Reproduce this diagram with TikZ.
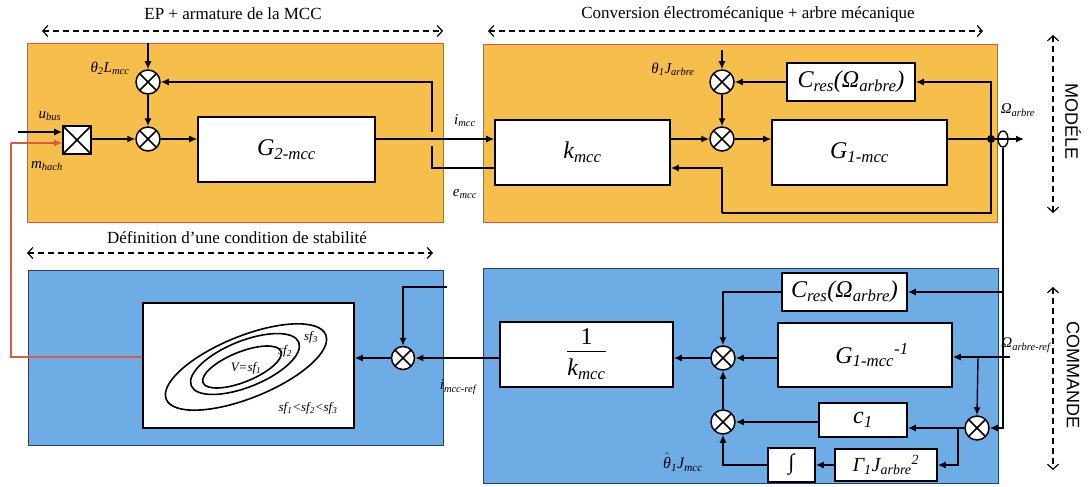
\documentclass[tikz,border=0pt]{standalone}
\usepackage{fontspec}
\setmainfont{Liberation Serif}
\newfontfamily\sansf{Liberation Sans}
\usetikzlibrary{arrows.meta,shapes.misc,shapes.geometric,calc}
\definecolor{orfill}{RGB}{246,190,74}
\definecolor{orline}{RGB}{226,84,52}
\definecolor{blfill}{RGB}{110,172,230}
\definecolor{blline}{RGB}{40,62,112}
\definecolor{redline}{RGB}{214,92,70}
\newcommand{\sbx}[1]{\textsubscript{#1}}
\newcommand{\spx}[1]{\textsuperscript{#1}}
\tikzset{
  panelO/.style={draw=orline, line width=1pt, fill=orfill, anchor=north west, inner sep=0pt},
  panelB/.style={draw=blline, line width=1pt, fill=blfill, anchor=north west, inner sep=0pt},
  blk/.style={draw=black, line width=1.6pt, fill=white, inner sep=0pt, font=\fontsize{24}{28}\selectfont\itshape},
  sumc/.style={circle, draw=black, line width=1.5pt, fill=white, minimum size=24pt, inner sep=0pt,
    path picture={\draw[line width=1.5pt] (path picture bounding box.north west) -- (path picture bounding box.south east)
      (path picture bounding box.north east) -- (path picture bounding box.south west);}},
  multbox/.style={rectangle, draw=black, line width=1.6pt, fill=white, minimum size=28pt, inner sep=0pt,
    path picture={\draw[line width=1.5pt] (path picture bounding box.north west) -- (path picture bounding box.south east)
      (path picture bounding box.north east) -- (path picture bounding box.south west);}},
  ln/.style={line width=1.4pt},
  arr/.style={line width=1.4pt, -{Latex[length=8pt,width=7pt]}},
  redarr/.style={line width=1.4pt, draw=redline, -{Latex[length=8pt,width=7pt]}},
  dasharr/.style={line width=1.2pt, dash pattern=on 6pt off 4pt,
    {Straight Barb[length=5pt,width=11pt]}-{Straight Barb[length=5pt,width=11pt]}},
  lab/.style={font=\fontsize{15}{17}\selectfont\itshape, inner sep=0pt},
  head/.style={font=\fontsize{17}{20}\selectfont, inner sep=0pt},
  side/.style={font=\sansf\fontsize{18}{20}\selectfont, rotate=-90, inner sep=0pt},
  elltxt/.style={font=\fontsize{13}{15}\selectfont\itshape, inner sep=0pt},
}
\begin{document}
\begin{tikzpicture}[x=1pt,y=-1pt]
\useasboundingbox (0,0) rectangle (1090,487);

% ---------- panels ----------
\node[panelO, minimum width=416pt, minimum height=179pt] (pTL) at (27,43) {};
\node[panelO, minimum width=514pt, minimum height=178pt] (pTR) at (483,44) {};
\node[panelB, minimum width=415pt, minimum height=175pt] (pBL) at (28,270) {};
\node[panelB, minimum width=515pt, minimum height=215pt] (pBR) at (483,268) {};

% ---------- headings ----------
\node[head] (h1) at (233,14) {EP + armature de la MCC};
\coordinate (h1a) at (42,31); \coordinate (h1b) at (443,31);
\draw[dasharr] (h1a) -- (h1b);
\node[head] (h2) at (748,14) {Conversion électromécanique + arbre mécanique};
\coordinate (h2a) at (488,31); \coordinate (h2b) at (983,31);
\draw[dasharr] (h2a) -- (h2b);
\node[head] (h3) at (237,238) {Définition d’une condition de stabilité};
\coordinate (h3a) at (27,253); \coordinate (h3b) at (433,253);
\draw[dasharr] (h3a) -- (h3b);
\coordinate (m1) at (1053,35); \coordinate (m2) at (1053,213);
\draw[dasharr] (m1) -- (m2);
\node[side] (modele) at (1073,122) {MODÉLE};
\coordinate (c1a) at (1053,287); \coordinate (c1b) at (1053,470);
\draw[dasharr] (c1a) -- (c1b);
\node[side] (commande) at (1073,375) {COMMANDE};

% ---------- top-left: EP + armature ----------
\node[multbox] (mult) at (77,140) {};
\node[sumc] (s2a) at (148,82) {};
\node[sumc] (s2b) at (148,139) {};
\node[blk, minimum width=177pt, minimum height=65pt] (G2) at (286.5,149.5) {G\sbx{2-mcc}};
\node[lab] (ubus) at (50,116) {u\sbx{bus}};
\node[lab] (mhach) at (47,166) {m\sbx{hach}};
\node[lab] (th2) at (110,68) {θ\sbx{2}L\sbx{mcc}};
\coordinate (inU) at (18,132);
\coordinate (top2) at (148,43);
\draw[arr] (inU) -- (mult.west |- inU);
\draw[arr] (mult.east |- s2b) -- (s2b.west);
\draw[arr] (s2b.east) -- (G2.west |- s2b);
\draw[arr] (top2) -- (s2a.north);
\draw[arr] (s2a.south) -- (s2b.north);

% ---------- top-right: conversion ----------
\node[blk, minimum width=175pt, minimum height=65pt] (kmcc) at (582.5,152.5) {k\sbx{mcc}};
\node[sumc] (s1a) at (722,82) {};
\node[sumc] (s1b) at (722,139) {};
\node[blk, minimum width=175pt, minimum height=65pt] (G1) at (859.5,152.5) {G\sbx{1-mcc}};
\node[blk, minimum width=128pt, minimum height=38pt] (Cres) at (851,82) {C\sbx{res}(Ω\sbx{arbre})};
\node[lab] (th1) at (673,69) {θ\sbx{1}J\sbx{arbre}};
\node[circle, fill=black, minimum size=8pt, inner sep=0pt] (dot) at (991,139) {};
\node[ellipse, draw=black, line width=1.4pt, minimum width=10pt, minimum height=16pt, inner sep=0pt] (sens) at (1003,139) {};
\coordinate (outO) at (1024,139);
\node[lab] (Omarb) at (1018,110) {Ω\sbx{arbre}};
\node[lab] (imcc) at (465,121) {i\sbx{mcc}};
\node[lab] (emcc) at (465,194) {e\sbx{mcc}};
\coordinate (top1) at (722,50);
\coordinate (eRow) at (460,168);
\coordinate (jmpA) at (432,146);
\coordinate (jmpB) at (432,132);
\coordinate (fbc) at (722,213);

\draw[arr] (G2.east |- s2b) -- (kmcc.west |- s2b);
\draw[ln] (kmcc.west |- eRow) -| (jmpA);
\draw[arr] (jmpB) |- (s2a.east);
\draw[arr] (kmcc.east |- s1b) -- (s1b.west);
\draw[arr] (top1) -- (s1a.north);
\draw[arr] (s1a.south) -- (s1b.north);
\draw[arr] (s1b.east) -- (G1.west |- s1b);
\draw[arr] (Cres.west) -- (s1a.east);
\draw[arr] (G1.east |- s1b) -- (dot) -- (outO);
\draw[arr] (dot) |- (Cres.east);
\draw[ln] (dot) |- (fbc);
\draw[arr] (fbc) |- (kmcc.east |- eRow);

% ---------- bottom-left: stability ----------
\node[blk, minimum width=211pt, minimum height=125pt] (ellb) at (248.5,365.5) {};
\draw[line width=1.6pt, rotate around={22:(246,367)}] (246,367) ellipse [x radius=86, y radius=31];
\draw[line width=1.6pt, rotate around={22:(245,364)}] (245,364) ellipse [x radius=58, y radius=23];
\draw[line width=1.6pt, rotate around={22:(242,367)}] (242,367) ellipse [x radius=42, y radius=15];
\node[elltxt] (sf3) at (311,337) {sf\sbx{3}};
\node[elltxt] (sf2) at (285,351) {sf\sbx{2}};
\node[elltxt] (vsf) at (246,368) {V=sf\sbx{1}};
\node[elltxt] (sfo) at (308,408) {sf\sbx{1}<sf\sbx{2}<sf\sbx{3}};
\node[sumc, minimum size=23pt] (sBL) at (403,358) {};
\coordinate (inBL) at (447,287);
\coordinate (redRow) at (0,357);
\coordinate (redc1) at (11,357);
\coordinate (redc2) at (11,143);
\coordinate (redRow2) at (0,143);
\draw[arr] (sBL.west) -- (ellb.east |- sBL);
\draw[arr] (inBL) -| (sBL.north);
\draw[redline, line width=1.4pt] (ellb.west |- redRow) -- (redc1) -- (redc2);
\draw[redarr] (redc2) -- (mult.west |- redRow2);
\node[lab] (iref) at (458,387) {i\sbx{mcc-ref}};

% ---------- bottom-right: commande ----------
\node[blk, minimum width=173pt, minimum height=65pt] (invk) at (586.5,354.5)
  {\begin{tabular}{@{}c@{}}\upshape 1\\[-2pt]\hline\rule{0pt}{24pt}k\sbx{mcc}\end{tabular}};
\node[sumc] (sA) at (723,358) {};
\node[sumc] (sB) at (723,422) {};
\node[blk, minimum width=125pt, minimum height=38pt] (CresB) at (844.5,292) {C\sbx{res}(Ω\sbx{arbre})};
\node[blk, minimum width=174pt, minimum height=64pt] (G1inv) at (865,355) {\hspace*{14pt}G\sbx{1-mcc}\spx{-1}};
\node[sumc] (sR) at (977,428) {};
\node[blk, minimum width=88pt, minimum height=34pt] (c1) at (863,420) {c\sbx{1}};
\node[blk, minimum width=102pt, minimum height=32pt, font=\fontsize{20}{24}\selectfont\itshape] (Gam) at (886,465) {Γ\sbx{1}J\sbx{arbre}\spx{2}};
\node[blk, minimum width=47pt, minimum height=34pt, font=\fontsize{22}{26}\selectfont] (intb) at (791.5,465) {∫};
\node[lab, font=\fontsize{16}{18}\selectfont\itshape] (th1h) at (683,462) {$\hat{\mbox{θ}}$\sbx{1}J\sbx{mcc}};
\node[lab] (Oref) at (1026,345) {Ω\sbx{arbre-ref}};
\coordinate (refIn) at (1010,357);
\coordinate (brR) at (978,357);
\coordinate (brG) at (958,428);

\draw[arr] (invk.west |- sBL) -- (sBL.east);
\draw[arr] (sA.west) -- (invk.east |- sA);
\draw[arr] (CresB.west) -| (sA.north);
\draw[arr] (G1inv.west |- sA) -- (sA.east);
\draw[arr] (sB.north) -- (sA.south);
\draw[arr] (c1.west |- sB) -- (sB.east);
\draw[arr] (intb.west) -| (sB.south);
\draw[arr] (Gam.west) -- (intb.east);
\draw[arr] (sR.west) -- (c1.east |- sR);
\draw[arr] (brG) |- (Gam.east);
\draw[arr] (refIn) -- (G1inv.east |- refIn);
\draw[arr] (brR) -- (sR.north);
\draw[arr] (sens.south) |- (sR.east);
\draw[arr] (sens.south |- CresB.east) -- (CresB.east);
\end{tikzpicture}
\end{document}
